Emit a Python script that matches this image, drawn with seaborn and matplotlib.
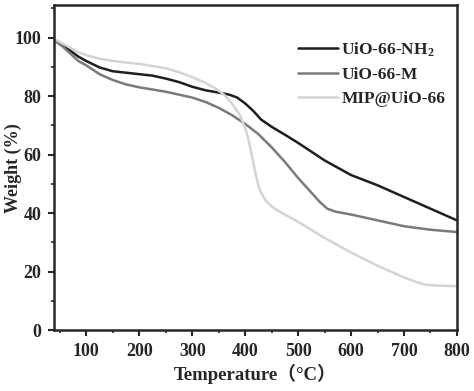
import numpy as np
import pandas as pd
import matplotlib
matplotlib.use("Agg")
import matplotlib.pyplot as plt
from matplotlib.ticker import MultipleLocator
import seaborn as sns

# values
temp_nh2 = [40, 55, 70, 85, 100, 125, 150, 175, 200, 225, 250, 275, 300, 325, 350, 370, 385, 400,
            415, 430, 450, 475, 500, 550, 600, 650, 700, 750, 800]
w_nh2 = [99, 97.5, 95.5, 93.5, 92, 89.8, 88.5, 88, 87.5, 87, 86, 84.8, 83.2, 82, 81.2, 80.5, 79.5, 77.5,
         75, 72, 69.5, 66.8, 64, 58, 53, 49.5, 45.5, 41.5, 37.5]

temp_m = [40, 55, 70, 85, 100, 125, 150, 175, 200, 250, 300, 325, 350, 375, 400, 425, 450, 475, 500,
          520, 540, 555, 570, 600, 650, 700, 750, 800]
w_m = [99, 97, 94.5, 92, 90.5, 87.5, 85.5, 84, 83, 81.5, 79.5, 78, 76, 73.5, 70.5, 67, 62.5, 57.5, 52,
       48, 44, 41.5, 40.5, 39.5, 37.5, 35.5, 34.3, 33.5]

temp_mip = [40, 55, 70, 85, 100, 125, 150, 175, 200, 225, 250, 275, 300, 325, 345, 360, 375, 390, 400,
            405, 410, 415, 420, 425, 430, 440, 450, 460, 480, 500, 550, 600, 650, 700, 725, 740, 760, 800]
w_mip = [99.5, 98, 96.5, 95, 94, 92.8, 92, 91.5, 91, 90.3, 89.5, 88.2, 86.5, 84.5, 82.5, 80.5, 77.5, 73.5, 69,
         66, 62, 57.5, 53, 49.5, 47, 44, 42.3, 41, 39, 37, 31.5, 26.5, 22, 18, 16.3, 15.5, 15.2, 15]

labels = ["UiO-66-NH$_2$", "UiO-66-M", "MIP@UiO-66"]
colors = ["#1e1e1e", "#7a7a7a", "#d4d4d4"]

sns.set_style("ticks")
plt.rcParams['font.family'] = ['Liberation Serif', 'Noto Sans CJK SC']
plt.rcParams['font.weight'] = 'bold'
plt.rcParams['mathtext.fontset'] = 'custom'
plt.rcParams['mathtext.rm'] = 'Liberation Serif:bold'
plt.rcParams['mathtext.it'] = 'Liberation Serif:bold'

fig = plt.figure(figsize=(4.74, 3.91), dpi=100)
ax = fig.add_axes([0.114, 0.156, 0.85, 0.83])

series = [(temp_nh2, w_nh2), (temp_m, w_m), (temp_mip, w_mip)]
for (t, w), lab, c in zip(series, labels, colors):
    df = pd.DataFrame({"T": t, "W": w})
    sns.lineplot(data=df, x="T", y="W", ax=ax, color=c, lw=1.8, label=lab)

ax.set_xlim(39, 800)
ax.set_ylim(0, 111)
ax.xaxis.set_major_locator(MultipleLocator(100))
ax.xaxis.set_minor_locator(MultipleLocator(50))
ax.yaxis.set_major_locator(MultipleLocator(20))
ax.yaxis.set_minor_locator(MultipleLocator(10))
ax.tick_params(which='major', direction='out', length=4, width=1.5, labelsize=13, pad=5)
ax.tick_params(which='minor', direction='out', length=2.5, width=1.2)
for s in ax.spines.values():
    s.set_linewidth(1.8)

ax.set_xlabel("Temperature（°C）", fontsize=13.5, fontweight='bold', labelpad=3)
ax.set_ylabel("Weight (%)", fontsize=13, fontweight='bold')
ax.yaxis.set_label_coords(-0.08, 0.5)

leg = ax.legend(loc='upper right', bbox_to_anchor=(1.01, 0.94), frameon=False,
                fontsize=12.5, handlelength=2.3, handletextpad=0.2, labelspacing=0.45)

fig.savefig("out.png", dpi=100)
